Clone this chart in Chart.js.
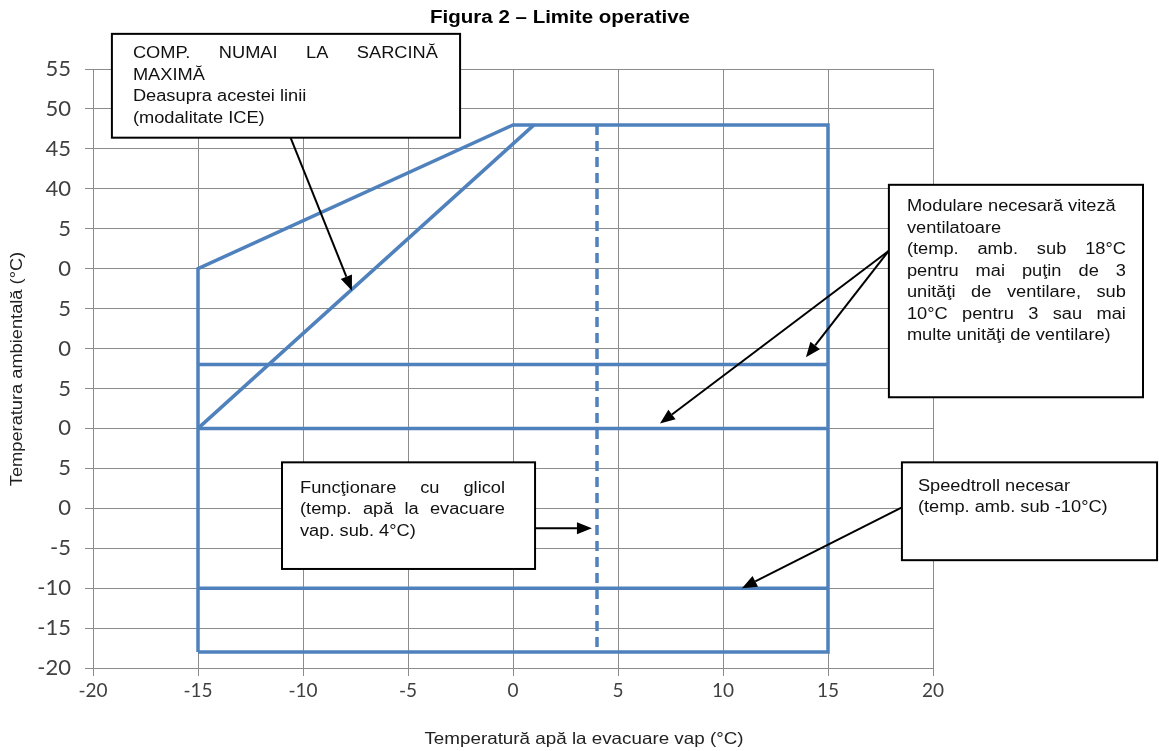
<!DOCTYPE html>
<html>
<head>
<meta charset="utf-8">
<script src="https://cdn.jsdelivr.net/npm/chart.js@4/dist/chart.umd.min.js"></script>
<style>
  body { margin: 0; background: #fff; }
  #wrap { width: 1159px; height: 751px; }
</style>
</head>
<body>
<div id="wrap"><canvas id="limitsChart" width="1159" height="751"></canvas></div>
<script>
// operating envelope (x = water leaving evaporator °C, y = ambient °C)
const envelopeX = [-15, -15, 0, 15, 15, -15];
const envelopeY = [-18, 30, 48, 48, -18, -18];
const iceLineX = [-15, 1];
const iceLineY = [10, 48];
const fan18X = [-15, 15];
const fan18Y = [18, 18];
const fan10X = [-15, 15];
const fan10Y = [10, 10];
const speedtrollX = [-15, 15];
const speedtrollY = [-10, -10];
const glycolX = [4, 4];
const glycolY = [48, -18];

// tick labels as printed (left side is clipped in the original)
const xTickLabels = ['-20', '-15', '-10', '-5', '0', '5', '10', '15', '20'];
const yTickLabels = ['-20', '-15', '-10', '-5', '0', '5', '0', '5', '0', '5', '0', '5', '40', '45', '50', '55'];

const toPoints = (xs, ys) => xs.map((x, i) => ({ x: x, y: ys[i] }));

const blue = '#4f81bd';
const lineStyle = {
  showLine: true, pointRadius: 0, borderColor: blue, borderWidth: 3.5,
  borderJoinStyle: 'miter', borderCapStyle: 'butt', fill: false
};

// text boxes with arrows, anchored in data units
const notes = [
  {
    box: [-19.1, 59.4, -2.52, 46.4], padL: 21, textW: 305, top: 20,
    lines: [['COMP. NUMAI LA SARCINĂ', true], ['MAXIMĂ'], ['Deasupra acestei linii'], ['(modalitate ICE)']],
    arrows: [[-10.76, 47.5, -7.67, 27.25]]
  },
  {
    box: [17.9, 40.5, 30.0, 13.9], padL: 18, textW: 219, top: 22,
    lines: [['Modulare necesară viteză'], ['ventilatoare'], ['(temp. amb. sub 18°C', true], ['pentru mai puţin de 3', true],
            ['unităţi de ventilare, sub', true], ['10°C pentru 3 sau mai', true], ['multe unităţi de ventilare)']],
    arrows: [[17.9, 32.25, 13.95, 18.9], [17.9, 32.25, 7.0, 10.6]]
  },
  {
    box: [-11.0, 5.75, 1.05, -7.6], padL: 18, textW: 205, top: 26,
    lines: [['Funcţionare cu glicol', true], ['(temp. apă la evacuare', true], ['vap. sub. 4°C)']],
    arrows: [[1.05, -2.5, 3.76, -2.5]]
  },
  {
    box: [18.52, 5.75, 30.67, -6.5], padL: 16, textW: 220, top: 24,
    lines: [['Speedtroll necesar'], ['(temp. amb. sub -10°C)']],
    arrows: [[18.52, 0.125, 10.9, -10]]
  }
];

// the scanned figure is a bit wider than tall, so text is stretched sideways
const stretch = 1.14;

function wideText(c, text, x, y) {
  c.save();
  c.translate(x, y);
  c.scale(stretch, 1);
  c.fillText(text, 0, 0);
  c.restore();
}

function drawArrow(c, x1, y1, x2, y2) {
  const a = Math.atan2(y2 - y1, x2 - x1);
  const hl = 15, hw = 6;
  c.beginPath();
  c.moveTo(x1, y1);
  c.lineTo(x2 - Math.cos(a) * hl, y2 - Math.sin(a) * hl);
  c.stroke();
  c.beginPath();
  c.moveTo(x2, y2);
  c.lineTo(x2 - Math.cos(a) * hl - Math.sin(a) * hw, y2 - Math.sin(a) * hl + Math.cos(a) * hw);
  c.lineTo(x2 - Math.cos(a) * hl + Math.sin(a) * hw, y2 - Math.sin(a) * hl - Math.cos(a) * hw);
  c.closePath();
  c.fill();
}

const notesPlugin = {
  id: 'notes',
  afterDraw(chart) {
    const c = chart.ctx;
    const xs = chart.scales.x, ys = chart.scales.y;
    c.save();

    // title and axis titles
    c.fillStyle = '#000';
    c.textAlign = 'center';
    c.textBaseline = 'middle';
    c.font = 'bold 18px "Liberation Sans", Arial, sans-serif';
    wideText(c, 'Figura 2 – Limite operative', 560, 18);
    c.fillStyle = '#222';
    c.font = '16.5px "Liberation Sans", Arial, sans-serif';
    wideText(c, 'Temperatură apă la evacuare vap (°C)', 584, 739);
    c.save();
    c.translate(18, 369);
    c.rotate(-Math.PI / 2);
    c.font = '16px "Liberation Sans", Arial, sans-serif';
    wideText(c, 'Temperatura ambientală (°C)', 0, 0);
    c.restore();

    notes.forEach(n => {
      const bx1 = xs.getPixelForValue(n.box[0]), by1 = ys.getPixelForValue(n.box[1]);
      const bx2 = xs.getPixelForValue(n.box[2]), by2 = ys.getPixelForValue(n.box[3]);
      c.strokeStyle = '#000';
      c.fillStyle = '#000';
      c.lineWidth = 2;
      n.arrows.forEach(a => {
        drawArrow(c, xs.getPixelForValue(a[0]), ys.getPixelForValue(a[1]),
                  xs.getPixelForValue(a[2]), ys.getPixelForValue(a[3]));
      });
      c.fillStyle = '#fff';
      c.fillRect(bx1, by1, bx2 - bx1, by2 - by1);
      c.strokeRect(bx1, by1, bx2 - bx1, by2 - by1);

      c.fillStyle = '#111';
      c.font = '16px "Liberation Sans", Arial, sans-serif';
      c.textAlign = 'left';
      c.textBaseline = 'middle';
      n.lines.forEach((ln, i) => {
        const y = by1 + n.top + i * 21.5;
        const x0 = bx1 + n.padL;
        if (ln[1]) {
          const words = ln[0].split(' ');
          const wsum = words.reduce((s, w) => s + c.measureText(w).width * stretch, 0);
          const gap = (n.textW - wsum) / (words.length - 1);
          let x = x0;
          words.forEach(w => { wideText(c, w, x, y); x += c.measureText(w).width * stretch + gap; });
        } else {
          wideText(c, ln[0], x0, y);
        }
      });
    });
    c.restore();
  }
};

const ctx = document.getElementById('limitsChart').getContext('2d');
new Chart(ctx, {
  type: 'scatter',
  data: {
    datasets: [
      Object.assign({ label: 'Limite', data: toPoints(envelopeX, envelopeY) }, lineStyle),
      Object.assign({ label: 'ICE', data: toPoints(iceLineX, iceLineY) }, lineStyle),
      Object.assign({ label: '18°C', data: toPoints(fan18X, fan18Y) }, lineStyle),
      Object.assign({ label: '10°C', data: toPoints(fan10X, fan10Y) }, lineStyle),
      Object.assign({ label: '-10°C', data: toPoints(speedtrollX, speedtrollY) }, lineStyle),
      Object.assign({ label: 'Glicol', data: toPoints(glycolX, glycolY) }, lineStyle, { borderDash: [10, 6] })
    ]
  },
  options: {
    responsive: false,
    animation: false,
    layout: { padding: { top: 69, right: 226, left: 0, bottom: 0 } },
    plugins: { legend: { display: false }, title: { display: false }, tooltip: { enabled: false } },
    scales: {
      x: {
        type: 'linear', min: -20, max: 20,
        afterFit(scale) { scale.height = 83; },
        border: { color: '#8c8c8c', width: 1 },
        grid: { color: '#8c8c8c', lineWidth: 1, tickLength: 8, tickColor: '#8c8c8c' },
        ticks: {
          stepSize: 5, padding: 3, color: '#404040',
          font: { family: 'Lato, "DejaVu Sans", sans-serif', size: 19 },
          callback: (v, i) => xTickLabels[i]
        }
      },
      y: {
        type: 'linear', min: -20, max: 55,
        afterFit(scale) { scale.width = 93; },
        border: { color: '#8c8c8c', width: 1 },
        grid: { color: '#8c8c8c', lineWidth: 1, tickLength: 8, tickColor: '#8c8c8c' },
        ticks: {
          stepSize: 5, padding: 14, color: '#404040',
          font: { family: 'Lato, "DejaVu Sans", sans-serif', size: 22 },
          callback: (v, i) => yTickLabels[i]
        }
      }
    }
  },
  plugins: [notesPlugin]
});
</script>
</body>
</html>
